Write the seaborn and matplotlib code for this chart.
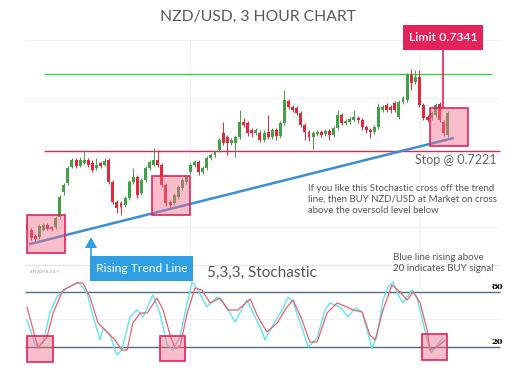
import matplotlib.pyplot as plt
import pandas as pd
import seaborn as sns
from matplotlib.lines import Line2D
from matplotlib.patches import Polygon, Rectangle

# NZD/USD 3h candles
opens = [0.71057, 0.70979, 0.70886, 0.70870, 0.70979, 0.71057, 0.71026, 0.71026, 0.71182, 0.71571,
         0.71711, 0.71961, 0.72070, 0.71976, 0.72023, 0.72070, 0.72023, 0.71945, 0.72023, 0.71992,
         0.72070, 0.71727, 0.71415, 0.71400, 0.71369, 0.71478, 0.71727, 0.71805, 0.71556, 0.71758,
         0.71945, 0.71992, 0.72070, 0.71992, 0.71680, 0.71415, 0.71400, 0.71493, 0.71634, 0.71727,
         0.71883, 0.71992, 0.72039, 0.71883, 0.71945, 0.72101, 0.72148, 0.72226, 0.72490, 0.72428,
         0.72335, 0.72335, 0.72428, 0.72662, 0.72646, 0.72537, 0.72490, 0.72490, 0.72381, 0.72506,
         0.72428, 0.72537, 0.72444, 0.72646, 0.72989, 0.72896, 0.72880, 0.72802, 0.72615, 0.72506,
         0.72428, 0.72475, 0.72506, 0.72475, 0.72522, 0.72459, 0.72568, 0.72771, 0.72646, 0.72662,
         0.72693, 0.72724, 0.72693, 0.72584, 0.72537, 0.72506, 0.72584, 0.72849, 0.72927, 0.72896,
         0.72958, 0.72740, 0.72973, 0.73005, 0.73394, 0.73285, 0.73363, 0.72927, 0.72740, 0.72724,
         0.72771, 0.72942, 0.72662, 0.72459]
closes = [0.70979, 0.70855, 0.70839, 0.71041, 0.71057, 0.70995, 0.70995, 0.71166, 0.71493, 0.71680,
          0.71945, 0.72070, 0.71976, 0.72070, 0.72070, 0.71992, 0.71914, 0.71992, 0.71976, 0.72054,
          0.71727, 0.71415, 0.71322, 0.71338, 0.71478, 0.71727, 0.71805, 0.71524, 0.71758, 0.71945,
          0.72039, 0.72070, 0.71992, 0.71680, 0.71400, 0.71369, 0.71524, 0.71649, 0.71758, 0.71805,
          0.71992, 0.72039, 0.71883, 0.71945, 0.72101, 0.72148, 0.72194, 0.72381, 0.72335, 0.72335,
          0.72381, 0.72428, 0.72662, 0.72615, 0.72490, 0.72490, 0.72537, 0.72381, 0.72490, 0.72428,
          0.72537, 0.72444, 0.72646, 0.73005, 0.72896, 0.72849, 0.72802, 0.72615, 0.72506, 0.72428,
          0.72490, 0.72506, 0.72459, 0.72522, 0.72459, 0.72568, 0.72771, 0.72646, 0.72677, 0.72709,
          0.72740, 0.72693, 0.72584, 0.72537, 0.72506, 0.72584, 0.72896, 0.72896, 0.72849, 0.72849,
          0.72849, 0.72973, 0.73036, 0.73394, 0.73269, 0.73363, 0.72927, 0.72724, 0.72693, 0.72802,
          0.72927, 0.72693, 0.72490, 0.72802]
highs = [0.71166, 0.71010, 0.70917, 0.71073, 0.71088, 0.71088, 0.71041, 0.71197, 0.71524, 0.71711,
         0.71976, 0.72101, 0.72101, 0.72117, 0.72226, 0.72101, 0.72070, 0.72101, 0.72039, 0.72101,
         0.72101, 0.71758, 0.71447, 0.71431, 0.71509, 0.71758, 0.71945, 0.71836, 0.71789, 0.71976,
         0.72070, 0.72257, 0.72226, 0.72023, 0.71711, 0.71447, 0.71556, 0.71680, 0.71789, 0.71836,
         0.72023, 0.72070, 0.72070, 0.71976, 0.72132, 0.72179, 0.72226, 0.72413, 0.72662, 0.72459,
         0.72413, 0.72459, 0.72849, 0.72724, 0.72677, 0.72568, 0.72568, 0.72537, 0.72537, 0.72771,
         0.72568, 0.72568, 0.72677, 0.73160, 0.73020, 0.72927, 0.72911, 0.72833, 0.72646, 0.72537,
         0.72522, 0.72537, 0.72537, 0.72553, 0.72553, 0.72600, 0.72849, 0.72802, 0.72709, 0.72740,
         0.72849, 0.72755, 0.72724, 0.72615, 0.72568, 0.72615, 0.72958, 0.72927, 0.72958, 0.72927,
         0.72989, 0.73005, 0.73067, 0.73425, 0.73488, 0.73472, 0.73472, 0.72958, 0.72771, 0.72833,
         0.72958, 0.72973, 0.72693, 0.72833]
lows = [0.70948, 0.70823, 0.70808, 0.70839, 0.70964, 0.70979, 0.70964, 0.70995, 0.71151, 0.71524,
        0.71680, 0.71945, 0.71945, 0.71961, 0.72007, 0.71961, 0.71883, 0.71914, 0.71945, 0.71976,
        0.71696, 0.71384, 0.71244, 0.71213, 0.71338, 0.71447, 0.71696, 0.71478, 0.71524, 0.71727,
        0.71914, 0.71976, 0.71961, 0.71649, 0.71353, 0.71322, 0.71369, 0.71462, 0.71602, 0.71696,
        0.71852, 0.71961, 0.71836, 0.71852, 0.71914, 0.72070, 0.72117, 0.72194, 0.72303, 0.72148,
        0.72303, 0.72117, 0.72397, 0.72584, 0.72444, 0.72428, 0.72459, 0.72350, 0.72350, 0.72397,
        0.72397, 0.72381, 0.72413, 0.72615, 0.72864, 0.72818, 0.72771, 0.72584, 0.72381, 0.72366,
        0.72241, 0.72444, 0.72428, 0.72444, 0.72381, 0.72428, 0.72537, 0.72615, 0.72615, 0.72631,
        0.72662, 0.72646, 0.72537, 0.72490, 0.72413, 0.72475, 0.72553, 0.72818, 0.72818, 0.72802,
        0.72818, 0.72709, 0.72942, 0.72973, 0.73160, 0.73254, 0.72896, 0.72693, 0.72662, 0.72693,
        0.72740, 0.72662, 0.72444, 0.72428]

stop_level = 0.7221
limit_level = 0.7341
trend_x = [0.7, 104.2]
trend_y = [0.7076, 0.7241]

# stochastic 5,3,3 (x in bar units)
k_x = [0, 2.0, 3.9, 5.6, 7.3, 9.8, 12.5, 14.7, 16.2, 17.9, 18.6, 20.3, 22.0, 23.2, 25.2, 26.9,
       28.4, 30.8, 32.5, 34.3, 35.7, 37.4, 39.2, 40.4, 41.6, 44.0, 46.5, 48.9, 50.9, 53.8, 55.8,
       57.7, 58.2, 60.2, 62.4, 63.9, 65.1, 67.3, 68.8, 71.0, 72.9, 74.1, 76.6, 78.5, 80.3, 82.0,
       83.2, 84.4, 85.6, 87.1, 88.3, 89.6, 90.8, 92.0, 94.2, 95.4, 96.6, 97.9, 98.9, 99.9, 101.8]
k_vals = [49.2, 21.7, 23.9, 56.9, 74.5, 84.4, 91.0, 78.9, 52.5, 27.2, 40.4, 32.7, 10.6, 16.1, 52.5,
          60.2, 52.5, 76.7, 56.9, 21.7, 16.1, 30.5, 67.9, 91.0, 84.4, 63.5, 74.5, 63.5, 47.0, 71.2,
          52.5, 34.9, 27.2, 43.7, 60.2, 74.5, 69.0, 40.4, 19.4, 29.4, 60.2, 67.9, 63.5, 52.5, 62.4,
          58.0, 38.2, 18.3, 30.5, 71.2, 85.5, 91.0, 76.7, 67.9, 82.2, 74.5, 52.5, 27.2, 12.8, 19.4,
          29.4]
d_x = [0, 2.7, 4.9, 6.4, 8.8, 12.2, 13.7, 15.4, 17.4, 19.6, 21.5, 23.2, 24.5, 25.9, 27.7, 29.4,
       31.8, 33.3, 35.0, 36.2, 37.4, 39.2, 41.1, 42.8, 44.8, 47.2, 49.2, 51.6, 54.6, 56.5, 58.7,
       61.2, 63.6, 65.1, 67.3, 69.2, 71.0, 73.4, 75.9, 78.3, 79.8, 82.0, 83.9, 85.2, 87.1, 89.3,
       91.3, 93.0, 94.5, 96.2, 97.9, 98.6, 100.3, 102.3]
d_vals = [63.5, 18.3, 30.5, 56.9, 82.2, 89.9, 89.9, 74.5, 45.9, 36.0, 27.2, 16.1, 16.1, 45.9, 56.9,
          56.9, 73.4, 60.2, 32.7, 18.3, 19.4, 56.9, 84.4, 82.2, 67.9, 73.4, 60.2, 60.2, 72.3, 52.5,
          36.0, 45.9, 63.5, 71.2, 49.2, 25.0, 25.0, 56.9, 67.9, 63.5, 60.2, 58.0, 32.7, 27.2, 60.2,
          87.7, 80.0, 71.2, 80.0, 67.9, 38.2, 16.1, 19.4, 27.2]
stoch_levels = [80, 20]

W, H = 531, 371
GREEN = "#43a047"
RED = "#e8263a"
CRIMSON = "#e3245a"
PINK = "#f26d8c"
BLUE = "#3a8fd2"
GREY = "#555555"

sns.set_theme(style="white")
plt.rcParams["font.family"] = ["Lato", "DejaVu Sans"]

fig = plt.figure(figsize=(W / 100, H / 100), dpi=100)
ax = fig.add_axes([0, 0, 1, 1])
ax2 = fig.add_axes([0, 0, 1, 1])
for a in (ax, ax2):
    a.set_axis_off()
    a.set_xlim(-6.606, 123.32)
ax2.patch.set_visible(False)
ax.set_ylim(0.687824, 0.745626)
ax2.set_ylim(-6.98, 401.6)


def fx(px):
    return px / W


def fy(py):
    return 1 - py / H


def px_line(x0, y0, x1, y1, **kw):
    fig.add_artist(Line2D([fx(x0), fx(x1)], [fy(y0), fy(y1)], transform=fig.transFigure, **kw))


def px_rect(x0, y0, x1, y1, **kw):
    fig.add_artist(Rectangle((fx(x0), fy(y1)), (x1 - x0) / W, (y1 - y0) / H,
                             transform=fig.transFigure, **kw))


# faint background grid
for gy in [40, 98, 227, 319]:
    px_line(25, gy, 500, gy, color="#f1f1f1", lw=0.8, zorder=0)
for gx in [190, 420]:
    px_line(gx, 40, gx, 365, color="#f1f1f1", lw=0.8, zorder=0)
px_line(25, 265, 500, 265, color="#e6e6e6", lw=0.9, zorder=0)

# candles
df = pd.DataFrame({"open": opens, "close": closes, "high": highs, "low": lows})
df["idx"] = range(len(df))
colors = [GREEN if c >= o else RED for o, c in zip(df["open"], df["close"])]
ax.vlines(df["idx"], df["low"], df["high"], colors=colors, lw=0.7, zorder=2)
ax.bar(df["idx"], (df["close"] - df["open"]).abs().clip(lower=0.00012),
       bottom=df[["open", "close"]].min(axis=1), width=0.72, color=colors, lw=0, zorder=3)

# levels
ax.hlines(limit_level, 4.2, 113.8, color="#3fcf45", lw=1.0, zorder=1)
ax.hlines(stop_level, 4.2, 115.7, color=CRIMSON, lw=1.0, zorder=1)

# pink highlight boxes
for x0, y0, x1, y1 in [(27, 215, 65, 253), (152, 176, 190, 215), (430, 108, 468, 146),
                       (27, 336, 53, 362), (160, 336, 185, 361), (422, 334, 447, 360)]:
    px_rect(x0, y0, x1, y1, facecolor=PINK, alpha=0.45, edgecolor="none", zorder=4)
    px_rect(x0, y0, x1, y1, facecolor="none", edgecolor=CRIMSON, lw=1.2, zorder=4)

# trend line
sns.lineplot(x=trend_x, y=trend_y, ax=ax, color=BLUE, lw=1.8, zorder=5)

# limit label
px_rect(403, 25, 483, 50, facecolor=CRIMSON, edgecolor="none", zorder=6)
fig.text(fx(443), fy(37.5), "Limit 0.7341", color="white", fontsize=8.8, ha="center", va="center",
         fontweight="semibold", zorder=7)
px_line(443, 50, 443, 108, color=CRIMSON, lw=1.2, zorder=6)

fig.text(fx(258), fy(17), "NZD/USD, 3 HOUR CHART", color="#5a5a5a", fontsize=11.3, ha="center",
         va="center")
fig.text(fx(415), fy(160), "Stop @ 0.7221", color="#666666", fontsize=9, ha="left", va="center")
fig.text(fx(308), fy(184), "If you like this Stochastic cross off the trend\n"
         "line, then BUY NZD/USD at Market on cross\nabove the oversold level below",
         color=GREY, fontsize=6.9, ha="left", va="top", linespacing=1.3)

# arrow + label
fig.add_artist(Polygon([(fx(85), fy(248)), (fx(97), fy(248)), (fx(91), fy(237))], closed=True,
                       transform=fig.transFigure, facecolor="#2f9ee3", edgecolor="none", zorder=6))
px_line(91, 248, 91, 256, color="#2f9ee3", lw=1.2, zorder=6)
px_rect(90, 256, 193, 281, facecolor="#2f9ee3", edgecolor="none", zorder=6)
fig.text(fx(141.5), fy(268.5), "Rising Trend Line", color="white", fontsize=8.7, ha="center",
         va="center", zorder=7)

# stochastic panel
ax2.hlines(stoch_levels, -0.5, 115.7, color="#4d6e7d", lw=1.0, zorder=1)
sns.lineplot(x=k_x, y=k_vals, ax=ax2, color="#5fe6ef", lw=1.0, zorder=3)
sns.lineplot(x=d_x, y=d_vals, ax=ax2, color="#e8636b", lw=0.9, zorder=3)
for lvl, py in zip(stoch_levels, [287, 342]):
    fig.text(fx(497), fy(py), str(lvl), color="black", fontsize=6, fontweight="bold",
             family="DejaVu Serif", ha="center", va="center")
fig.text(fx(30), fy(272), "STOCH 5 3 3 ?", color="#888888", fontsize=3.2, ha="left", va="center")
fig.text(fx(207), fy(273), "5,3,3, Stochastic", color=GREY, fontsize=11, ha="left", va="center")
fig.text(fx(393), fy(253), "Blue line rising above\n20 indicates BUY signal", color=GREY,
         fontsize=7.0, ha="left", va="top", linespacing=1.25)

fig.savefig("out.png", dpi=100, facecolor="white")
